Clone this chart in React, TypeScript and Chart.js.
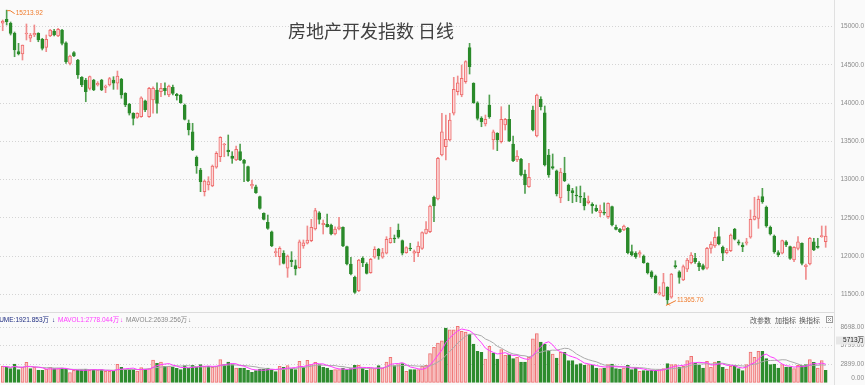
import React, { useEffect, useRef } from 'react';
import { Chart, registerables } from 'chart.js';

Chart.register(...registerables);

// ---------------- data ----------------
const OPEN = [
  15042, 15094, 15042, 14911, 14671, 14641, 14902, 14846, 14889, 14911,
  14833, 14728, 14876, 14941, 14876, 14954, 14788, 14519, 14658, 14562,
  14336, 14301, 14192, 14301, 14235, 14301, 14205, 14235, 14301, 14258,
  14310, 14127, 13987, 13866, 13813, 13821, 14030, 13821, 14039, 14170,
  14148, 14192, 14105, 14205, 14114, 14105, 13974, 13735, 13625, 13291,
  13125, 12841, 12928, 12915, 13160, 13298, 13451, 13386, 13308, 13255,
  13364, 13255, 13168, 12915, 12906, 12776, 12559, 12441, 12318, 12044,
  11991, 12036, 11840, 11948, 11874, 11848, 12131, 12167, 12201, 12353,
  12566, 12410, 12415, 12406, 12288, 12353, 12376, 12122, 11896, 11722,
  11547, 11970, 11896, 11782, 11984, 12088, 11984, 12036, 12174, 12232,
  12340, 12201, 12044, 12101, 12036, 12044, 12101, 12297, 12318, 12768,
  12746, 13321, 13429, 13517, 13866, 14148, 14105, 14279, 14723, 14258,
  14004, 13800, 13726, 13974, 13517, 13604, 13494, 13713, 13787, 13464,
  13255, 13264, 13072, 12906, 13909, 13569, 14049, 13873, 13321, 13168,
  13115, 12759, 13081, 12928, 12854, 12798, 12776, 12755, 12697, 12676,
  12624, 12566, 12572, 12514, 12645, 12376, 12349, 12340, 12362, 12057,
  12036, 12023, 12000, 11905, 11795, 11739, 11504, 11478, 11591, 11461,
  11874, 11795, 11687, 11827, 11913, 11970, 11905, 11874, 11840, 12101,
  12131, 12253, 12114, 12044, 12070, 12349, 12187, 12144, 12167, 12245,
  12480, 12493, 12776, 12637, 12376, 12262, 12044, 12036, 12187, 12122,
  11948, 12101, 12167, 11861, 11896, 12187, 12122, 12253, 12187,
];

const HIGH = [
  15085, 15213.92, 15059, 14928, 14780, 14758, 15033, 14911, 15020, 14919,
  14846, 14889, 14963, 14963, 14977, 14963, 14801, 14628, 14671, 14571,
  14344, 14323, 14353, 14310, 14279, 14310, 14235, 14336, 14344, 14418,
  14323, 14135, 13996, 13873, 13873, 14082, 14039, 14205, 14213, 14265,
  14258, 14265, 14235, 14235, 14127, 14114, 13987, 13778, 13735, 13308,
  13147, 12994, 13037, 13190, 13364, 13560, 13473, 13582, 13364, 13438,
  13464, 13264, 13177, 12994, 12928, 12785, 12566, 12536, 12327, 12101,
  12122, 12070, 12014, 12057, 11948, 12210, 12210, 12393, 12480, 12624,
  12580, 12471, 12549, 12419, 12383, 12506, 12383, 12131, 11984, 11739,
  11957, 11991, 11913, 11970, 12122, 12101, 12101, 12253, 12376, 12275,
  12419, 12210, 12122, 12167, 12079, 12187, 12318, 12449, 12667, 12785,
  13291, 13866, 13843, 13866, 14336, 14353, 14497, 14553, 14780, 14265,
  14017, 13821, 13843, 14105, 13647, 13612, 13952, 13800, 13974, 13569,
  13377, 13277, 13125, 13212, 13961, 14118, 14082, 13961, 13395, 13334,
  13125, 13147, 13291, 12942, 12885, 12906, 12915, 12828, 12785, 12697,
  12667, 12667, 12697, 12697, 12654, 12406, 12362, 12406, 12376, 12144,
  12057, 12070, 12014, 11913, 11808, 11752, 11599, 11774, 11599, 11774,
  11939, 11808, 11883, 11970, 12044, 12036, 11926, 11896, 12114, 12187,
  12318, 12376, 12131, 12101, 12288, 12362, 12210, 12174, 12232, 12602,
  12768, 12785, 12885, 12654, 12393, 12275, 12070, 12210, 12201, 12131,
  12122, 12253, 12174, 11896, 12245, 12232, 12232, 12393, 12393,
];

const LOW = [
  14945, 15020, 14889, 14605, 14628, 14562, 14824, 14801, 14867, 14801,
  14693, 14671, 14867, 14876, 14867, 14758, 14519, 14497, 14605, 14323,
  14213, 14017, 14170, 14161, 14222, 14161, 14135, 14222, 14179, 14179,
  14062, 13952, 13843, 13713, 13800, 13813, 13886, 13813, 13866, 13866,
  14082, 14105, 14082, 14105, 14039, 13996, 13778, 13582, 13377, 13081,
  12841, 12785, 12863, 12906, 13147, 13233, 13298, 13308, 13212, 13246,
  13246, 12972, 12972, 12885, 12820, 12611, 12471, 12349, 12122, 11991,
  11883, 11896, 11722, 11861, 11752, 11840, 12101, 12157, 12187, 12340,
  12419, 12288, 12376, 12275, 12275, 12340, 12122, 11883, 11752, 11513,
  11534, 11861, 11765, 11774, 11970, 11957, 11970, 12027, 12167, 12174,
  12232, 12014, 12036, 12070, 11926, 11991, 12088, 12288, 12305, 12449,
  12732, 13308, 13255, 13504, 13843, 14105, 14082, 14258, 14379, 13996,
  13778, 13690, 13700, 13800, 13395, 13377, 13477, 13647, 13494, 13233,
  13233, 13046, 12820, 12898, 13634, 13556, 13909, 13177, 13029, 13134,
  12785, 12697, 12972, 12723, 12697, 12710, 12697, 12602, 12680, 12559,
  12580, 12514, 12536, 12493, 12393, 12340, 12305, 12331, 12027, 12000,
  11970, 11984, 11905, 11765, 11709, 11513, 11491, 11469, 11365.70, 11448,
  11840, 11644, 11678, 11795, 11896, 11905, 11808, 11818, 11827, 12036,
  12114, 12144, 11939, 12027, 12057, 12210, 12144, 12057, 12144, 12232,
  12471, 12362, 12689, 12376, 12275, 12036, 11991, 12027, 12122, 11957,
  11926, 12079, 11883, 11696, 11883, 12070, 12101, 12245, 12114,
];

const CLOSE = [
  15072, 15063, 14911, 14693, 14641, 14758, 14911, 14889, 14911, 14824,
  14715, 14833, 14954, 14889, 14963, 14780, 14540, 14614, 14614, 14366,
  14235, 14148, 14344, 14170, 14258, 14170, 14222, 14318, 14258, 14353,
  14105, 13974, 13866, 13800, 13866, 14069, 13909, 14192, 14192, 13996,
  14192, 14161, 14222, 14127, 14096, 14004, 13787, 13647, 13386, 13177,
  12972, 12981, 12972, 13177, 13343, 13552, 13464, 13364, 13277, 13395,
  13255, 13212, 12985, 12938, 12828, 12624, 12480, 12362, 12131, 12057,
  12101, 11905, 12000, 11926, 11831, 12187, 12174, 12210, 12376, 12593,
  12480, 12428, 12383, 12288, 12353, 12383, 12131, 11896, 11765, 11526,
  11948, 11913, 11774, 11957, 12088, 12000, 12044, 12219, 12232, 12223,
  12245, 12036, 12109, 12092, 12057, 12131, 12305, 12353, 12654, 12654,
  13277, 13625, 13526, 13778, 14179, 14265, 14323, 14540, 14475, 14004,
  13800, 13756, 13787, 13821, 13625, 13517, 13787, 13787, 13507, 13246,
  13308, 13059, 12928, 13029, 13647, 14105, 13952, 13190, 13059, 13147,
  12811, 13098, 12985, 12854, 12828, 12785, 12768, 12654, 12723, 12654,
  12593, 12593, 12559, 12689, 12406, 12349, 12318, 12393, 12044, 12014,
  11991, 12044, 11913, 11782, 11730, 11521, 11521, 11652, 11425, 11765,
  11861, 11722, 11861, 11948, 12014, 11926, 11861, 11827, 12101, 12153,
  12245, 12157, 12036, 12079, 12275, 12219, 12167, 12122, 12187, 12480,
  12523, 12742, 12710, 12393, 12288, 12057, 12014, 12201, 12144, 11970,
  12114, 12187, 11905, 11883, 12232, 12079, 12114, 12266, 12262,
];

// volume, in 万
const VOLUME = [
  2530, 2430, 2170, 2900, 2010, 2380, 3160, 2170, 2380, 1910,
  1910, 2115, 2380, 2170, 2170, 2270, 2115, 1540, 1910, 1960,
  2010, 2115, 1910, 2010, 1960, 2010, 1750, 1750, 1750, 2850,
  2380, 2010, 2010, 2010, 1800, 2325, 2115, 2170, 3530, 3000,
  3210, 2530, 2530, 2380, 2220, 2010, 2640, 2270, 2690, 2380,
  2790, 2530, 2530, 2380, 2530, 3580, 2790, 3210, 2790, 2270,
  2270, 2270, 1910, 1590, 1850, 2115, 2115, 2270, 2010, 1700,
  2530, 2380, 2640, 2170, 2010, 3320, 2380, 3470, 2790, 3160,
  2790, 2380, 2270, 1960, 2010, 2010, 2270, 2010, 2170, 2690,
  2690, 2270, 1910, 2170, 2170, 2640, 2270, 3210, 3940, 2640,
  2790, 2950, 1750, 2010, 2010, 2010, 2530, 2690, 4520, 5510,
  6190, 6550, 8540, 8270, 8270, 8800, 8020, 7910, 7600, 6030,
  4890, 4730, 3680, 5670, 4620, 3680, 5140, 4260, 4360, 3730,
  3950, 3210, 3210, 3950, 6860, 7650, 6350, 6030, 5040, 4470,
  3840, 4730, 4730, 3420, 3420, 2790, 2950, 2690, 2790, 2690,
  2270, 2170, 2270, 2790, 2900, 2170, 2115, 2270, 2690, 2010,
  2270, 1750, 1850, 1850, 1910, 1910, 2010, 2170, 2950, 2790,
  2790, 2430, 2530, 3420, 4100, 3060, 2690, 2270, 3320, 2380,
  3210, 3320, 2380, 2115, 2530, 2690, 2170, 1850, 2790, 4780,
  3940, 4880, 4880, 3730, 2790, 2900, 2270, 2790, 2430, 2380,
  2170, 2690, 2690, 2790, 3580, 3160, 2270, 3420, 1921.853,
];

const PRICE_TICKS = [11500, 12000, 12500, 13000, 13500, 14000, 14500, 15000];
const VOLUME_TICKS = [0, 2899, 5799, 8698];
const PRICE_RANGE = [11268.6, 15346.4];
const VOLUME_RANGE = [-392, 11049];
const MA_PERIODS = [5, 10];

const TITLE = '房地产开发指数 日线';
const VOLUME_LEGEND = ['VOLUME:1921.853万', 'MAVOL1:2778.044万', 'MAVOL2:2639.256万'];
const TOOL_LABELS = ['改参数', '加指标', '换指标'];
const CURSOR_VOLUME_LABEL = '5713万';

// ---------------- layout & style ----------------
const W = 865;
const PRICE_H = 312;
const VOL_H = 73;
const AXIS_W = 31;
const X_MIN = -0.682;
const X_MAX = 210.1;

const BG = '#fafafa';
const GRID = '#d4d4d4';
const AXIS_LINE = '#e0e0e0';
const AXIS_TEXT = '#8a8a8a';
const RED_LINE = '#ee6b6b';
const RED_FILL = '#fcd8d8';
const RED_WICK = '#f08c8c';
const GREEN = '#2a8a2a';
const GREEN_WICK = '#4f9f4f';
const VRED_LINE = '#ef7373';
const VRED_FILL = '#f8c6c6';
const VGREEN = '#2e8c2e';
const MA1_COLOR = '#ff3cff';
const MA2_COLOR = '#aaaaaa';
const VOL_TEXT = '#1e2c80';
const ANNOT = '#ef7b2c';
const SMALL_FONT = '6.5px "Liberation Sans", "Noto Sans CJK SC", sans-serif';
const TOOL_FONT = '7px "Noto Sans CJK SC", sans-serif';
const TITLE_FONT = '18px "Noto Sans CJK SC", sans-serif';

const idx = OPEN.map((_, i) => i);
const isUp = (i: number) => CLOSE[i] >= OPEN[i];
const volUp = (i: number) => (i === 0 ? isUp(0) : CLOSE[i] >= CLOSE[i - 1]);
const movingAvg = (n: number) =>
  VOLUME.map((_, i) => {
    const s = Math.max(0, i - n + 1);
    let sum = 0;
    for (let k = s; k <= i; k++) sum += VOLUME[k];
    return sum / (i - s + 1);
  });

const xScale = () => ({
  type: 'linear',
  min: X_MIN,
  max: X_MAX,
  bounds: 'data',
  offset: false,
  display: false,
  grid: { display: false },
});

const yScale = (range: number[], gridTicks: number[]) => ({
  type: 'linear',
  position: 'right',
  min: range[0],
  max: range[1],
  bounds: 'data',
  beginAtZero: false,
  afterBuildTicks: (s: any) => {
    s.ticks = gridTicks.map((v) => ({ value: v }));
  },
  afterFit: (s: any) => {
    s.width = AXIS_W;
    s.paddingTop = 0;
    s.paddingBottom = 0;
  },
  ticks: { display: false },
  grid: { color: GRID, lineWidth: 1, drawTicks: false },
  border: { display: true, color: AXIS_LINE, width: 1, dash: [1, 2] },
});

const baseOptions = {
  responsive: false,
  maintainAspectRatio: false,
  animation: false,
  devicePixelRatio: 1,
  events: [],
  layout: { padding: 0 },
  plugins: { legend: { display: false }, tooltip: { enabled: false }, title: { display: false } },
};

const priceDecor = {
  id: 'priceDecor',
  afterDraw(chart: any) {
    const { ctx, scales } = chart;
    const x = scales.x;
    const y = scales.y;
    ctx.save();
    // price tick labels
    ctx.font = SMALL_FONT;
    ctx.fillStyle = AXIS_TEXT;
    ctx.textAlign = 'right';
    ctx.textBaseline = 'middle';
    PRICE_TICKS.forEach((v) => ctx.fillText(v.toFixed(1), 864, y.getPixelForValue(v)));
    // title
    ctx.font = TITLE_FONT;
    ctx.fillStyle = '#404040';
    ctx.textAlign = 'left';
    ctx.fillText(TITLE, 288, 31);
    // extreme markers
    const hiVal = Math.max(...HIGH);
    const hiIdx = HIGH.indexOf(hiVal);
    const loVal = Math.min(...LOW);
    const loIdx = LOW.indexOf(loVal);
    ctx.strokeStyle = ANNOT;
    ctx.fillStyle = ANNOT;
    ctx.lineWidth = 1;
    ctx.font = SMALL_FONT;
    const hx = x.getPixelForValue(hiIdx);
    const hy = y.getPixelForValue(hiVal);
    ctx.beginPath();
    ctx.moveTo(hx + 0.5, hy + 0.5);
    ctx.lineTo(hx + 3.5, hy + 0.5);
    ctx.lineTo(hx + 8, hy + 3.5);
    ctx.stroke();
    ctx.fillText(hiVal.toFixed(2), hx + 9, hy + 3.5);
    const lx = x.getPixelForValue(loIdx);
    const ly = y.getPixelForValue(loVal);
    ctx.beginPath();
    ctx.moveTo(lx + 0.5, ly);
    ctx.lineTo(lx + 8.5, ly - 4);
    ctx.stroke();
    ctx.beginPath();
    ctx.moveTo(lx - 1.5, ly + 1);
    ctx.lineTo(lx + 1, ly - 0.5);
    ctx.lineTo(lx + 2.5, ly + 1);
    ctx.stroke();
    ctx.fillText(loVal.toFixed(2), lx + 9.5, ly - 4);
    ctx.restore();
  },
};

const volumeDecor = {
  id: 'volumeDecor',
  afterDraw(chart: any) {
    const { ctx, chartArea, scales } = chart;
    const y = scales.y;
    ctx.save();
    // separator with the price panel
    ctx.fillStyle = '#dcdcdc';
    ctx.fillRect(0, 0, chartArea.right, 1);
    // legend line
    const hy = 8;
    ctx.font = SMALL_FONT;
    ctx.textBaseline = 'middle';
    ctx.fillStyle = VOL_TEXT;
    ctx.textAlign = 'right';
    ctx.fillText(VOLUME_LEGEND[0], 49, hy);
    ctx.textAlign = 'left';
    ctx.fillText('↓', 52, hy);
    ctx.fillStyle = MA1_COLOR;
    ctx.fillText(VOLUME_LEGEND[1], 58, hy);
    ctx.fillText('↓', 120, hy);
    ctx.fillStyle = '#888888';
    ctx.fillText(VOLUME_LEGEND[2], 126, hy);
    ctx.fillText('↓', 188, hy);
    // tool labels
    ctx.font = TOOL_FONT;
    ctx.fillStyle = '#555555';
    const toolX = [750, 775, 799];
    TOOL_LABELS.forEach((t, k) => ctx.fillText(t, toolX[k], hy));
    // close box
    ctx.strokeStyle = '#9a9a9a';
    ctx.lineWidth = 1;
    ctx.strokeRect(826.5, 4.5, 6, 6);
    ctx.beginPath();
    ctx.moveTo(828, 6);
    ctx.lineTo(831, 9);
    ctx.moveTo(831, 6);
    ctx.lineTo(828, 9);
    ctx.stroke();
    // volume tick labels
    ctx.font = SMALL_FONT;
    ctx.fillStyle = AXIS_TEXT;
    ctx.textAlign = 'right';
    VOLUME_TICKS.forEach((v) => {
      const py = y.getPixelForValue(v) - (v === 0 ? 4.5 : 0);
      ctx.fillText(v.toFixed(2), 864, py);
    });
    // cursor value label
    ctx.fillStyle = '#e7e7e7';
    ctx.fillRect(836, 24.5, 29, 8);
    ctx.fillStyle = '#222222';
    ctx.fillText(CURSOR_VOLUME_LABEL, 864, 28.5);
    ctx.restore();
  },
};

export default function App() {
  const priceRef = useRef<HTMLCanvasElement>(null);
  const volRef = useRef<HTMLCanvasElement>(null);

  useEffect(() => {
    const priceChart = new Chart(priceRef.current as HTMLCanvasElement, {
      type: 'bar',
      data: {
        datasets: [
          {
            type: 'bar',
            label: 'body',
            data: idx.map((i) => ({ x: i, y: [OPEN[i], CLOSE[i]] })),
            backgroundColor: idx.map((i) => (isUp(i) ? RED_FILL : GREEN)),
            borderColor: idx.map((i) => (isUp(i) ? RED_LINE : GREEN)),
            borderWidth: 1,
            borderSkipped: false,
            barThickness: 3,
            minBarLength: 1,
            grouped: false,
            order: 0,
          },
          {
            type: 'bar',
            label: 'wick',
            data: idx.map((i) => ({ x: i, y: [LOW[i], HIGH[i]] })),
            backgroundColor: idx.map((i) => (isUp(i) ? RED_WICK : GREEN_WICK)),
            borderWidth: 0,
            barThickness: 1,
            grouped: false,
            order: 1,
          },
        ],
      } as any,
      options: {
        ...baseOptions,
        scales: { x: xScale(), y: yScale(PRICE_RANGE, PRICE_TICKS) },
      } as any,
      plugins: [priceDecor],
    });

    const ma1 = movingAvg(MA_PERIODS[0]);
    const ma2 = movingAvg(MA_PERIODS[1]);
    const volChart = new Chart(volRef.current as HTMLCanvasElement, {
      type: 'bar',
      data: {
        datasets: [
          {
            type: 'line',
            label: 'MAVOL1',
            data: idx.map((i) => ({ x: i, y: ma1[i] })),
            borderColor: MA1_COLOR,
            borderWidth: 1,
            pointRadius: 0,
            tension: 0,
            order: 0,
          },
          {
            type: 'line',
            label: 'MAVOL2',
            data: idx.map((i) => ({ x: i, y: ma2[i] })),
            borderColor: MA2_COLOR,
            borderWidth: 1,
            pointRadius: 0,
            tension: 0,
            order: 1,
          },
          {
            type: 'bar',
            label: 'VOLUME',
            data: idx.map((i) => ({ x: i, y: VOLUME[i] })),
            backgroundColor: idx.map((i) => (volUp(i) ? VRED_FILL : VGREEN)),
            borderColor: idx.map((i) => (volUp(i) ? VRED_LINE : VGREEN)),
            borderWidth: 1,
            borderSkipped: false,
            barThickness: 3,
            grouped: false,
            order: 2,
          },
        ],
      } as any,
      options: {
        ...baseOptions,
        scales: { x: xScale(), y: yScale(VOLUME_RANGE, VOLUME_TICKS.slice(1)) },
      } as any,
      plugins: [volumeDecor],
    });

    return () => {
      priceChart.destroy();
      volChart.destroy();
    };
  }, []);

  return (
    <div
      style={{
        position: 'fixed',
        left: 0,
        top: 0,
        width: W,
        height: PRICE_H + VOL_H,
        background: BG,
        overflow: 'hidden',
      }}
    >
      <canvas
        ref={priceRef}
        width={W}
        height={PRICE_H}
        style={{ position: 'absolute', left: 0, top: 0, width: W, height: PRICE_H, display: 'block' }}
      />
      <canvas
        ref={volRef}
        width={W}
        height={VOL_H}
        style={{ position: 'absolute', left: 0, top: PRICE_H, width: W, height: VOL_H, display: 'block' }}
      />
    </div>
  );
}
